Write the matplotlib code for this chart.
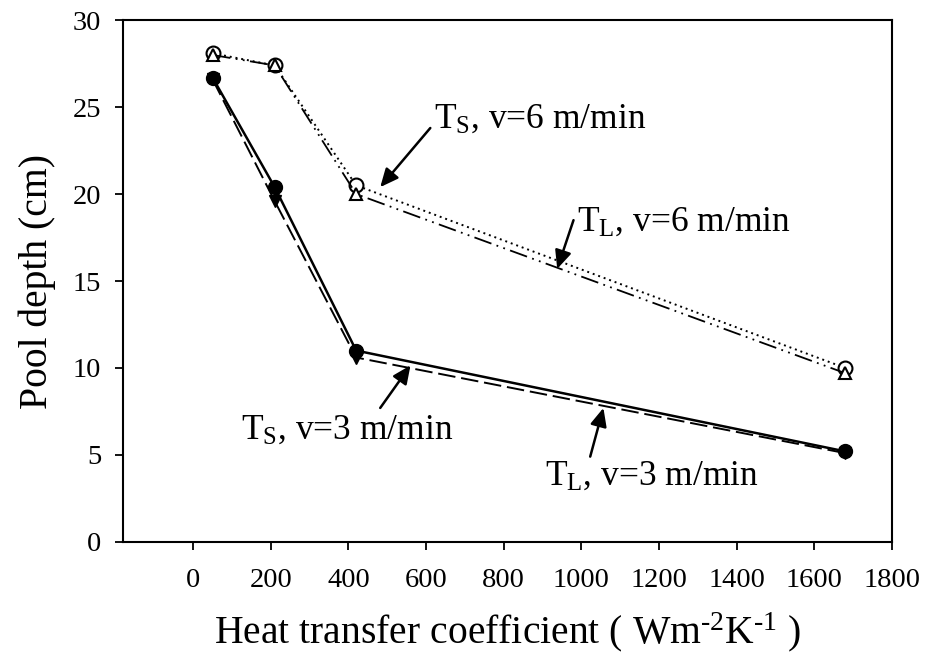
import matplotlib
matplotlib.use("Agg")
import matplotlib.pyplot as plt

plt.rcParams['font.family'] = ['Liberation Serif', 'DejaVu Serif']
plt.rcParams['mathtext.fontset'] = 'custom'
plt.rcParams['mathtext.rm'] = 'Liberation Serif'
plt.rcParams['mathtext.it'] = 'Liberation Serif:italic'
plt.rcParams['mathtext.bf'] = 'Liberation Serif:bold'

# Heat transfer coefficient (W m^-2 K^-1)
htc = [50, 210, 420, 1680]

# Pool depth (cm)
ts_v6 = [28.1, 27.4, 20.5, 10.0]   # solidus, v = 6 m/min
tl_v6 = [28.0, 27.4, 20.0, 9.7]    # liquidus, v = 6 m/min
ts_v3 = [26.7, 20.4, 11.0, 5.2]    # solidus, v = 3 m/min
tl_v3 = [26.6, 19.6, 10.6, 5.1]    # liquidus, v = 3 m/min

x_ticks = [0, 200, 400, 600, 800, 1000, 1200, 1400, 1600, 1800]
y_ticks = [0, 5, 10, 15, 20, 25, 30]

fig = plt.figure(figsize=(9.27, 6.52), dpi=100)
ax = fig.add_axes([0.133, 0.169, 0.829, 0.800])

ax.plot(htc, tl_v3, color='black', lw=1.4, ls=(0, (9, 3)),
        marker='v', ms=9, mfc='black', mec='black', zorder=3)
ax.plot(htc, ts_v3, color='black', lw=1.8, ls='-',
        marker='o', ms=10, mfc='black', mec='black', zorder=4)
ax.plot(htc, ts_v6, color='black', lw=1.4, ls=(0, (1, 2)),
        marker='o', ms=10, mfc='white', mec='black', mew=1.5, zorder=5)
ax.plot(htc, tl_v6, color='black', lw=1.3, ls=(0, (10, 3, 1, 3, 1, 3)),
        marker='^', ms=9, mfc='white', mec='black', mew=1.5, zorder=6)

ax.set_xlim(-180, 1800)
ax.set_ylim(0, 30)
ax.set_xticks(x_ticks)
ax.set_yticks(y_ticks)
ax.tick_params(axis='both', direction='out', length=6, width=1.3,
               labelsize=20.5, colors='black')
ax.tick_params(axis='x', pad=13)
ax.tick_params(axis='y', pad=10)
for sp in ax.spines.values():
    sp.set_linewidth(1.5)
    sp.set_color('black')

ax.set_xlabel(r'Heat transfer coefficient ( Wm$^{\text{-}2}$K$^{\text{-}1}$ )',
              fontsize=28.5, labelpad=12)
ax.set_ylabel('Pool depth (cm)', fontsize=28.5, labelpad=12)

arrow_kw = dict(arrowstyle='-|>,head_length=0.55,head_width=0.25',
                mutation_scale=20, lw=1.8, color='black',
                shrinkA=0, shrinkB=0)

# (text x, text y, label, arrow tail, arrow tip)
notes = [
    (620, 23.8, r'T$_{\mathrm{S}}$, v=6 m/min', (611, 23.8), (482, 20.4)),
    (990, 17.9, r'T$_{\mathrm{L}}$, v=6 m/min', (980, 18.5), (938, 15.7)),
    (122, 5.95, r'T$_{\mathrm{S}}$, v=3 m/min', (482, 7.7), (560, 10.15)),
    (907, 3.3, r'T$_{\mathrm{L}}$, v=3 m/min', (1023, 4.9), (1057, 7.7)),
]
for tx, ty, label, tail, tip in notes:
    ax.text(tx, ty, label, fontsize=25.5, ha='left', va='baseline', zorder=7)
    ax.annotate('', xy=tip, xytext=tail, arrowprops=arrow_kw, zorder=7)

fig.savefig('out.png', dpi=100)
